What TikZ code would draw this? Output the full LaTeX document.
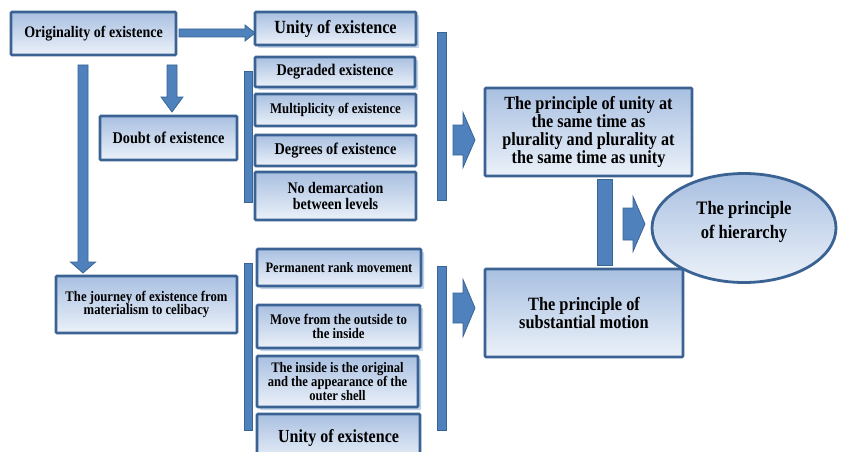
\documentclass[tikz,border=0pt]{standalone}
\usepackage{fontspec}
\setmainfont[FakeStretch=0.87]{Liberation Serif}
\usetikzlibrary{shapes.geometric,shadows}
\definecolor{boxborder}{HTML}{3A6292}
\definecolor{boxtop}{HTML}{A9C0E1}
\definecolor{boxbot}{HTML}{EBF1F9}
\definecolor{barfill}{HTML}{4F81BD}
\definecolor{barline}{HTML}{3A6494}
\definecolor{shadowc}{HTML}{C3D3EA}
\newcommand\myarrowR[6]{% x1, x2, yc, shaft half, head half, head length
  \filldraw[blockarr] (#1,#3-#4) -- (#2-#6,#3-#4) -- (#2-#6,#3-#5) -- (#2,#3)
    -- (#2-#6,#3+#5) -- (#2-#6,#3+#4) -- (#1,#3+#4) -- cycle;}
\newcommand\myarrowD[6]{% y1, y2, xc, shaft half, head half, head length
  \filldraw[blockarr] (#3-#4,#1) -- (#3-#4,#2-#6) -- (#3-#5,#2-#6) -- (#3,#2)
    -- (#3+#5,#2-#6) -- (#3+#4,#2-#6) -- (#3+#4,#1) -- cycle;}
\newcommand\fs[2]{\fontsize{#1}{#2}\selectfont\bfseries}
\tikzset{
  box/.style={draw=boxborder, line width=2.8pt, rounded corners=1pt, top color=boxtop, bottom color=boxbot,
    align=center, inner sep=1pt, font=\bfseries},
  shad/.style={drop shadow={shadow xshift=3pt, shadow yshift=-3pt, fill=shadowc, opacity=1}},
  blockarr/.style={fill=barfill, draw=barline, line width=0.8pt},
  barrect/.style={fill=barfill, draw=barline, line width=0.8pt},
}
\begin{document}
\begin{tikzpicture}[x=1pt,y=-1pt]
\useasboundingbox (0,0) rectangle (841,452);
\clip (0,0) rectangle (841,452);
\fill[white] (0,0) rectangle (841,452);

% bars
\filldraw[barrect] (244,71) rectangle (252,202);
\filldraw[barrect] (437,32) rectangle (446,200);
\filldraw[barrect] (244,263) rectangle (252,430);
\filldraw[barrect] (437,266) rectangle (446,430);
\filldraw[barrect] (597,179) rectangle (612,265);

% boxes
\node[box, minimum width=165, minimum height=43, font=\fs{16.1}{17}] (orig) at (93.5,33.5) {Originality of existence};
\node[box, shad, minimum width=161, minimum height=33, font=\fs{18.6}{19}] (unity1) at (335.5,28.5) {Unity of existence};
\node[box, shad, minimum width=160, minimum height=30, font=\fs{16.3}{17}] (degr) at (335,72) {Degraded existence};
\node[box, minimum width=161, minimum height=32, font=\fs{14.7}{15}] (multi) at (335.5,110) {Multiplicity of existence};
\node[box, minimum width=161, minimum height=31, font=\fs{16.4}{17}] (degrees) at (335.5,150.5) {Degrees of existence};
\node[box, minimum width=161, minimum height=48, font=\fs{16.1}{16}] (nodem) at (335.5,196) {No demarcation\\between levels};
\node[box, minimum width=137, minimum height=44, font=\fs{16.4}{17}] (doubt) at (168.5,138) {Doubt of existence};
\node[box, minimum width=181, minimum height=57, font=\fs{14.6}{13.5}] (journey) at (146.5,304.5) {The journey of existence from\\materialism to celibacy};
\node[box, shad, minimum width=164, minimum height=37, font=\fs{14.4}{14}] (perm) at (339,267.5) {Permanent rank movement};
\node[box, shad, minimum width=163, minimum height=43, font=\fs{14.7}{14}] (move) at (338.5,326.5) {Move from the outside to\\the inside};
\node[box, shad, minimum width=161, minimum height=51, font=\fs{14.5}{12.4}] (inside) at (337.5,381.5) {The inside is the original\\and the appearance of the\\outer shell};
\node[box, minimum width=163, minimum height=48, font=\fs{18.4}{19}] (unity2) at (338.5,438) {Unity of existence};
\node[box, minimum width=207, minimum height=88, font=\fs{18.6}{17.7}] (uprin) at ([yshift=-2pt]588.5,130) {The principle of unity at\\the same time as\\plurality and plurality at\\the same time as unity};
\node[box, minimum width=198, minimum height=88, font=\fs{18.8}{17}] (subst) at (584,313) {The principle of\\substantial motion};
\node[box, ellipse, inner sep=0pt, minimum width=184, minimum height=109, font=\fs{19}{24}] (hier) at (744,228) {The principle\\of hierarchy\\[-7pt]};

% block arrows
\myarrowR{179}{255}{33}{4}{8}{10}
\myarrowD{65}{112}{172}{5}{11}{15}
\myarrowD{65}{273}{83}{5}{12.5}{11}
\myarrowR{453}{475}{140}{15}{27.5}{12}
\myarrowR{453}{475}{308}{15}{28.5}{12}
\myarrowR{623}{645}{224}{16}{27.5}{12}
\end{tikzpicture}
\end{document}
